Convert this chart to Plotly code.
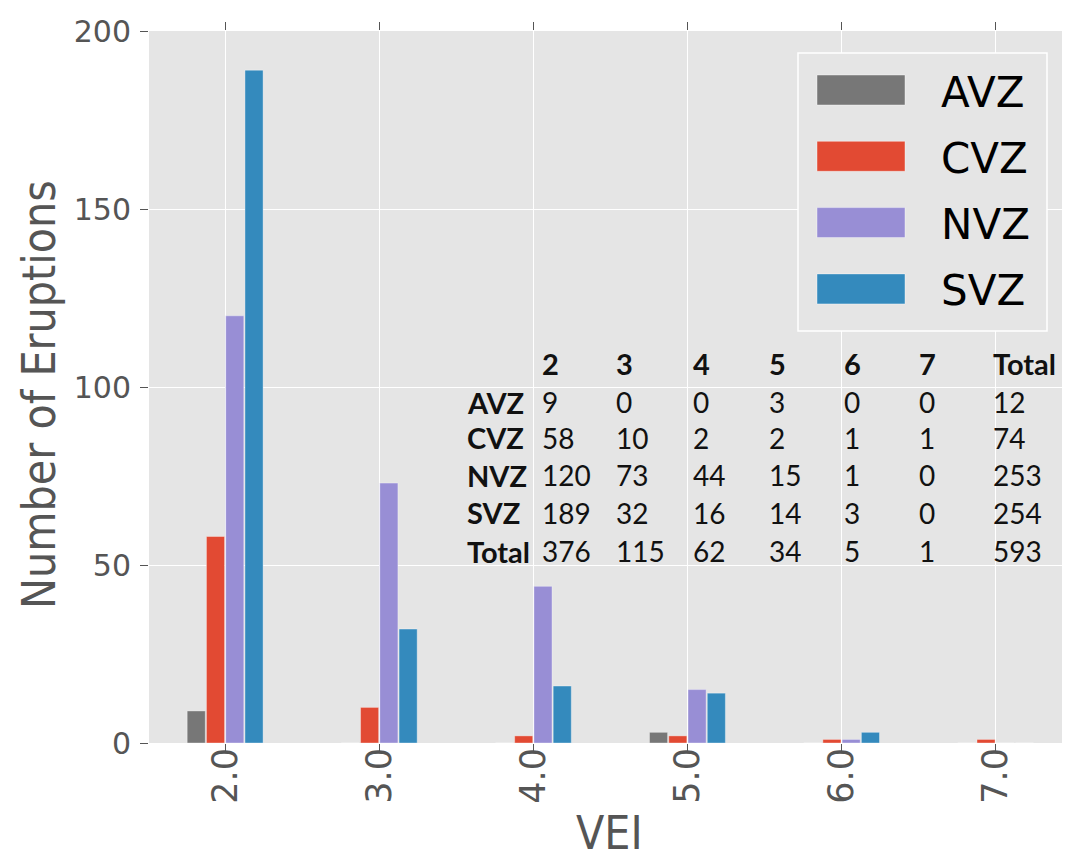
import plotly.graph_objects as go

# ---- data ----
vei = [2, 3, 4, 5, 6, 7]
zones = ["AVZ", "CVZ", "NVZ", "SVZ"]
avz = [9, 0, 0, 3, 0, 0]
cvz = [58, 10, 2, 2, 1, 1]
nvz = [120, 73, 44, 15, 1, 0]
svz = [189, 32, 16, 14, 3, 0]
colors = ["#777777", "#E24A33", "#988ED5", "#348ABD"]
series = [avz, cvz, nvz, svz]
y_ticks = [0, 50, 100, 150, 200]

# page has an 8px body margin; size the figure so it fills the window
OFF = 8
W, H = 1070 - OFF, 863 - OFF
L, R, T, B = 149 - OFF, 5, 31 - OFF, 120
PW, PH = W - L - R, H - T - B


def px(x):
    return (x - OFF - L) / PW


def py(y):
    return (H - B - (y - OFF)) / PH


fig = go.Figure()
for name, vals, c in zip(zones, series, colors):
    fig.add_trace(go.Bar(x=vei, y=vals, name=name, marker=dict(color=c, line=dict(color="rgba(255,255,255,0.6)", width=0.6)),
                         showlegend=False))

annotations = []
shapes = []

# legend (manual, large patches)
shapes.append(dict(type="rect", xref="paper", yref="paper", x0=px(798), x1=px(1047), y0=py(331), y1=py(53),
                   line=dict(color="white", width=1.5), fillcolor="#E5E5E5", layer="above"))
for i, (name, c) in enumerate(zip(zones, colors)):
    cy = 90 + i * 66.3
    shapes.append(dict(type="rect", xref="paper", yref="paper", x0=px(817), x1=px(905), y0=py(cy + 15), y1=py(cy - 15),
                       line=dict(color="rgba(255,255,255,0.5)", width=0.8), fillcolor=c, layer="above"))
    annotations.append(dict(xref="paper", yref="paper", x=px(939), y=py(cy + 2), text=name, showarrow=False,
                            xanchor="left", yanchor="middle", font=dict(family="DejaVu Sans", size=42, color="black")))

# table
col_x = [540, 614, 691, 767, 842, 917, 991]
head_y = 363
row_y = [402, 438, 475, 513, 551]
tfont = dict(family="Lato, Open Sans, sans-serif", size=28, color="#111111")
lfont = dict(family="Lato, Open Sans, sans-serif", size=29, color="#111111")
headers = [str(v) for v in vei] + ["Total"]
for hx, h in zip(col_x, headers):
    annotations.append(dict(xref="paper", yref="paper", x=px(hx), y=py(head_y), text="<b>%s</b>" % h, showarrow=False,
                            xanchor="left", yanchor="middle", font=lfont))
rows = [(z, s) for z, s in zip(zones, series)]
totals_col = [sum(s[j] for s in series) for j in range(len(vei))]
rows.append(("Total", totals_col))
for ry, (lab, vals) in zip(row_y, rows):
    annotations.append(dict(xref="paper", yref="paper", x=px(465), y=py(ry), text="<b>%s</b>" % lab, showarrow=False,
                            xanchor="left", yanchor="middle", font=lfont))
    cells = list(vals) + [sum(vals)]
    for cx, v in zip(col_x, cells):
        annotations.append(dict(xref="paper", yref="paper", x=px(cx), y=py(ry), text=str(v), showarrow=False,
                                xanchor="left", yanchor="middle", font=tfont))

# axis titles as annotations for exact placement
cond = "Liberation Sans Narrow, DejaVu Sans Condensed, sans-serif"
annotations.append(dict(xref="paper", yref="paper", x=px(609), y=py(833), text="VEI", showarrow=False,
                        xanchor="center", yanchor="middle", font=dict(family=cond, size=46, color="#555555")))
annotations.append(dict(xref="paper", yref="paper", x=px(39), y=py(395), text="Number of Eruptions", showarrow=False,
                        textangle=-90, xanchor="center", yanchor="middle", font=dict(family=cond, size=46, color="#555555")))

fig.update_layout(
    width=W, height=H,
    margin=dict(l=L, r=R, t=T, b=B, autoexpand=False),
    paper_bgcolor="white",
    plot_bgcolor="#E5E5E5",
    barmode="group",
    bargap=0.5,
    bargroupgap=0.06,
    shapes=shapes,
    annotations=annotations,
    xaxis=dict(
        range=[1.506, 7.45], tickvals=vei, ticktext=["%.1f" % v for v in vei],
        tickangle=-90, tickfont=dict(family="DejaVu Sans", size=35, color="#555555"),
        ticks="outside", ticklen=8, tickcolor="#555555", tickwidth=1.2, mirror="ticks",
        ticklabelstandoff=-18,
        showgrid=True, gridcolor="white", gridwidth=1.2, zeroline=False, showline=False,
        automargin=False,
    ),
    yaxis=dict(
        range=[0, 200], tickvals=y_ticks,
        tickfont=dict(family="DejaVu Sans", size=30, color="#555555"),
        ticks="outside", ticklen=8, tickcolor="#555555", tickwidth=1.2,
        ticklabelstandoff=3,
        showgrid=True, gridcolor="white", gridwidth=1.2, zeroline=False, showline=False,
        automargin=False,
    ),
)

fig.write_html("out.html")
